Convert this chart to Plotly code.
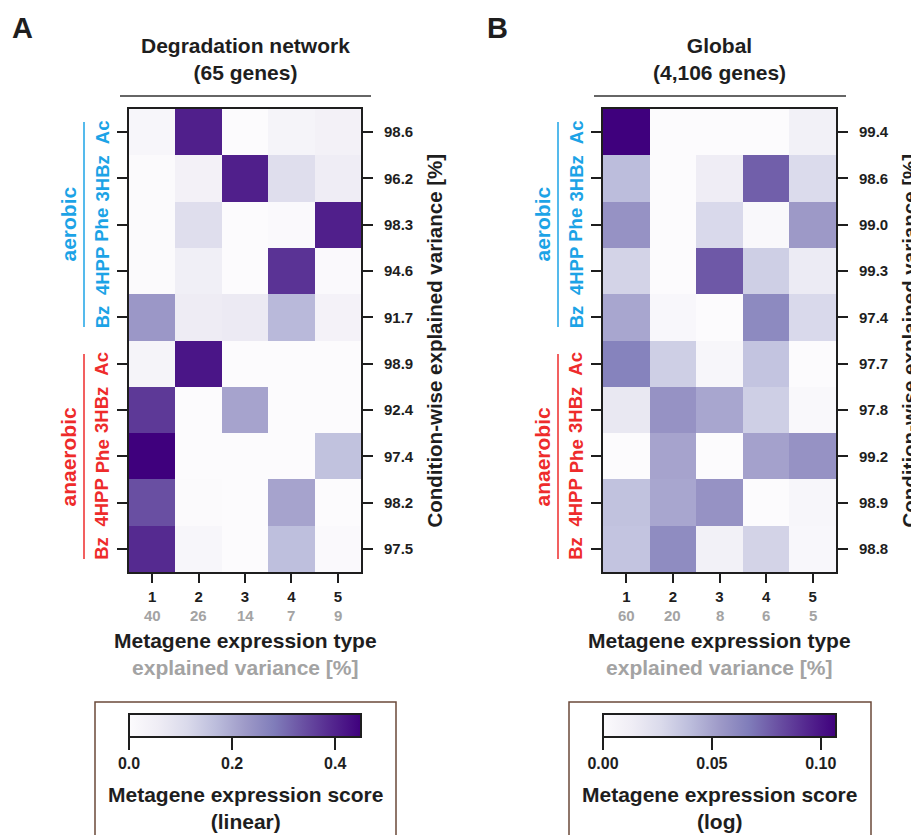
import plotly.graph_objects as go

# the page body has an 8px margin, so the figure is drawn 8px smaller
OFF = 8
W, H = 919 - OFF, 835 - OFF

# ---------------- data ----------------
conditions = ["Ac", "3HBz", "Phe", "4HPP", "Bz"]
groups = ["aerobic", "anaerobic"]
metagenes = [1, 2, 3, 4, 5]

metagene_var_A = [40, 26, 14, 7, 9]
metagene_var_B = [60, 20, 8, 6, 5]

cond_var_A = [98.6, 96.2, 98.3, 94.6, 91.7, 98.9, 92.4, 97.4, 98.2, 97.5]
cond_var_B = [99.4, 98.6, 99.0, 99.3, 97.4, 97.7, 97.8, 99.2, 98.9, 98.8]

# rows: aerobic Ac,3HBz,Phe,4HPP,Bz ; anaerobic Ac,3HBz,Phe,4HPP,Bz
score_A = [
    [0.020, 0.405, 0.000, 0.030, 0.040],
    [0.005, 0.040, 0.405, 0.100, 0.055],
    [0.005, 0.100, 0.000, 0.010, 0.405],
    [0.005, 0.050, 0.000, 0.378, 0.010],
    [0.230, 0.060, 0.065, 0.175, 0.035],
    [0.030, 0.420, 0.000, 0.000, 0.000],
    [0.370, 0.000, 0.210, 0.000, 0.000],
    [0.450, 0.000, 0.000, 0.000, 0.160],
    [0.340, 0.005, 0.000, 0.210, 0.000],
    [0.390, 0.020, 0.000, 0.165, 0.010],
]
score_B = [
    [0.107, 0.000, 0.000, 0.000, 0.010],
    [0.040, 0.000, 0.013, 0.076, 0.026],
    [0.057, 0.000, 0.027, 0.003, 0.054],
    [0.030, 0.000, 0.078, 0.032, 0.015],
    [0.049, 0.004, 0.000, 0.061, 0.027],
    [0.064, 0.032, 0.005, 0.037, 0.000],
    [0.017, 0.057, 0.049, 0.032, 0.003],
    [0.000, 0.050, 0.000, 0.051, 0.057],
    [0.038, 0.049, 0.057, 0.000, 0.005],
    [0.037, 0.060, 0.010, 0.030, 0.004],
]

zmax_A, zmax_B = 0.45, 0.107
cb_ticks_A = [0.0, 0.2, 0.4]
cb_ticks_B = [0.0, 0.05, 0.10]
cb_ticktext_A = ["0.0", "0.2", "0.4"]
cb_ticktext_B = ["0.00", "0.05", "0.10"]

titles = ["Degradation network<br>(65 genes)", "Global<br>(4,106 genes)"]
cb_titles = ["Metagene expression score<br>(linear)", "Metagene expression score<br>(log)"]
panel_letters = ["A", "B"]

# ---------------- style ----------------
FONT = "Liberation Sans, Arial, sans-serif"
BLUE = "#1ca3e6"
RED = "#ee2b2b"
GREY = "#a3a3a3"
INK = "#1e1e1e"

def px(x):
    return (x - OFF) / W

def py(y):
    return 1 - (y - OFF) / H

panels = [
    dict(x0=129, x1=361, z=score_A, zmax=zmax_A, mv=metagene_var_A, cv=cond_var_A,
         cbt=cb_ticks_A, cbtt=cb_ticktext_A, box=(95, 396)),
    dict(x0=603, x1=836, z=score_B, zmax=zmax_B, mv=metagene_var_B, cv=cond_var_B,
         cbt=cb_ticks_B, cbtt=cb_ticktext_B, box=(569, 871)),
]
Y0, Y1 = 109, 572  # heatmap top / bottom in px

fig = go.Figure()
annotations = []
shapes = []

for i, p in enumerate(panels):
    xa = "x" if i == 0 else "x2"
    ya = "y" if i == 0 else "y2"
    fig.add_trace(go.Heatmap(
        z=p["z"], x=metagenes, y=list(range(10)),
        xaxis=xa, yaxis=ya,
        colorscale="Purples", zmin=0, zmax=p["zmax"],
        colorbar=dict(
            orientation="h",
            x=px((p["x0"] + p["x1"]) / 2), xanchor="center", xref="paper",
            y=py(714), yanchor="top", yref="paper",
            len=(p["x1"] - p["x0"]) / W, lenmode="fraction",
            thickness=23, thicknessmode="pixels",
            outlinewidth=2, outlinecolor=INK,
            xpad=0, ypad=0,
            ticks="outside", ticklen=12, tickwidth=2, tickcolor=INK,
            tickvals=p["cbt"], ticktext=p["cbtt"],
            tickfont=dict(size=16, family=FONT, color=INK, weight="bold"),
            title=dict(text="", side="bottom"),
        ),
        hovertemplate="metagene %{x}<br>score %{z}<extra></extra>",
    ))

    axis_x = dict(
        domain=[px(p["x0"]), px(p["x1"])], range=[0.5, 5.5],
        tickvals=metagenes,
        ticktext=[f"<b>{m}</b>" for m in metagenes],
        ticks="outside", ticklen=9, tickwidth=2, tickcolor=INK,
        ticklabelstandoff=1,
        tickfont=dict(size=15, family=FONT, color=INK),
        showline=True, linewidth=2, linecolor=INK, mirror=True,
        showgrid=False, zeroline=False, anchor=ya, fixedrange=True,
    )
    axis_y = dict(
        domain=[py(Y1), py(Y0)], range=[9.5, -0.5],
        side="right",
        tickvals=list(range(10)), ticktext=[f"{v:.1f}" for v in p["cv"]],
        ticks="outside", ticklen=10, tickwidth=2, tickcolor=INK,
        ticklabelstandoff=8,
        tickfont=dict(size=15, family=FONT, color=INK, weight="bold"),
        showline=True, linewidth=2, linecolor=INK, mirror="ticks",
        showgrid=False, zeroline=False, anchor=xa, fixedrange=True,
    )
    if i == 0:
        fig.update_layout(xaxis=axis_x, yaxis=axis_y)
    else:
        fig.update_layout(xaxis2=axis_x, yaxis2=axis_y)

    # explained variance per metagene (grey second tick row)
    for m, v in zip(metagenes, p["mv"]):
        annotations.append(dict(text=f"<b>{v}</b>", x=m, xref=xa, y=py(615), yref="paper",
                                showarrow=False, xanchor="center", yanchor="middle",
                                font=dict(size=15, family=FONT, color=GREY)))

    cx = (p["x0"] + p["x1"]) / 2

    # panel letter
    annotations.append(dict(text=f"<b>{panel_letters[i]}</b>",
                            x=px(22 if i == 0 else 497), y=py(28),
                            xref="paper", yref="paper", showarrow=False,
                            xanchor="center", yanchor="middle",
                            font=dict(size=29, family=FONT, color=INK)))
    # title
    annotations.append(dict(text=f"<b>{titles[i]}</b>", x=px(cx), y=py(59), xref="paper",
                            yref="paper", showarrow=False, xanchor="center", yanchor="middle",
                            font=dict(size=21, family=FONT, color=INK)))
    shapes.append(dict(type="line", xref="paper", yref="paper",
                       x0=px(p["x0"] - 9), x1=px(p["x1"] + 10), y0=py(96), y1=py(96),
                       line=dict(color="#333333", width=1.5)))
    # x axis title
    annotations.append(dict(text=f"<b>Metagene expression type</b><br><span style='color:{GREY}'><b>explained variance [%]</b></span>",
                            x=px(cx), y=py(654), xref="paper", yref="paper", showarrow=False,
                            xanchor="center", yanchor="middle",
                            font=dict(size=21, family=FONT, color=INK)))
    # right title
    annotations.append(dict(text="<b>Condition-wise explained variance [%]</b>",
                            x=px(p["x1"] + 73), y=py((Y0 + Y1) / 2), xref="paper", yref="paper",
                            showarrow=False, textangle=-90, xanchor="center", yanchor="middle",
                            font=dict(size=20.5, family=FONT, color=INK)))
    # colorbar title
    annotations.append(dict(text=f"<b>{cb_titles[i]}</b>",
                            x=px(cx), y=py(808), xref="paper", yref="paper", showarrow=False,
                            xanchor="center", yanchor="middle",
                            font=dict(size=21, family=FONT, color=INK)))
    # condition labels & group labels
    for g, (grp, col) in enumerate(zip(groups, [BLUE, RED])):
        for k, c in enumerate(conditions):
            annotations.append(dict(text=f"<b>{c}</b>", x=px(p["x0"] - 27), y=g * 5 + k,
                                    xref="paper", yref=ya, showarrow=False, textangle=-90,
                                    xanchor="center", yanchor="middle",
                                    font=dict(size=18.5, family=FONT, color=col)))
        gy0 = 122 + g * 232
        gy1 = 327 + g * 232
        shapes.append(dict(type="line", xref="paper", yref="paper",
                           x0=px(p["x0"] - 45), x1=px(p["x0"] - 45), y0=py(gy0), y1=py(gy1),
                           line=dict(color=col, width=1.5)))
        annotations.append(dict(text=f"<b>{grp}</b>", x=px(p["x0"] - 61), y=py((gy0 + gy1) / 2),
                                xref="paper", yref="paper", showarrow=False, textangle=-90,
                                xanchor="center", yanchor="middle",
                                font=dict(size=21, family=FONT, color=col)))
    # colorbar box
    bx0, bx1 = p["box"]
    shapes.append(dict(type="rect", xref="paper", yref="paper",
                       x0=px(bx0), x1=px(bx1), y0=py(702), y1=py(850),
                       line=dict(color="#6b4a3a", width=1.5), fillcolor="rgba(0,0,0,0)",
                       layer="below"))

fig.update_layout(
    width=W, height=H,
    margin=dict(l=0, r=0, t=0, b=0),
    paper_bgcolor="white", plot_bgcolor="white",
    font=dict(family=FONT, color=INK),
    annotations=annotations, shapes=shapes,
    showlegend=False,
)

fig.write_html("out.html")
